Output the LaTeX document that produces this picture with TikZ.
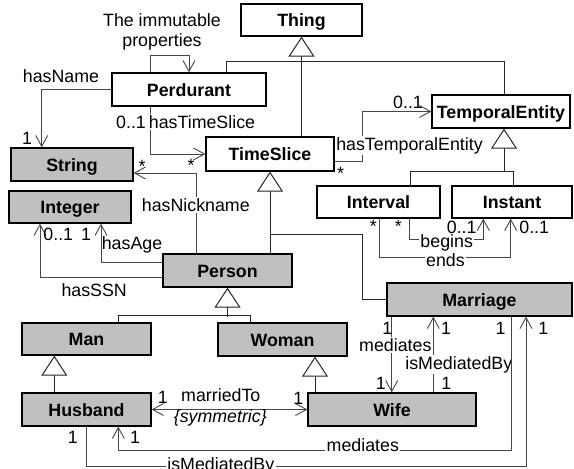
\documentclass[tikz,border=0pt]{standalone}
\usepackage{fontspec}
\setmainfont{Liberation Sans}
\usetikzlibrary{arrows.meta}
\definecolor{boxgray}{RGB}{192,192,192}
\definecolor{linegray}{RGB}{70,70,70}
\pgfdeclarelayer{bg}
\pgfsetlayers{bg,main}
\newcommand\diafont{\fontsize{17.8pt}{20.7pt}\selectfont}
\begin{document}
\diafont
\begin{tikzpicture}[x=1pt,y=-1pt,
  cls/.style={draw=black, line width=1.3pt, fill=white, inner sep=0pt,
    font=\diafont\bfseries, minimum height=33pt, text height=13pt, text depth=0pt},
  gcls/.style={cls, fill=boxgray},
  assoc/.style={draw=linegray, line width=0.9pt, -{Straight Barb[length=11pt,width=12pt]}},
  assocboth/.style={draw=linegray, line width=0.9pt,
    {Straight Barb[length=11pt,width=12pt]}-{Straight Barb[length=11pt,width=12pt]}},
  genline/.style={draw=black!85, line width=1pt},
  genarrow/.style={genline, -{Triangle[open,fill=white,length=20pt,width=26pt]}},
  lbl/.style={inner sep=0.5pt, font=\diafont},
  onlbl/.style={lbl, fill=white, inner sep=1.5pt}]
\useasboundingbox (0,0) rectangle (574,469);

% classes
\node[cls, minimum width=121pt, minimum height=32pt] (thing) at (301.5,20) {Thing};
\node[cls, minimum width=154pt] (perd) at (189,89.5) {Perdurant};
\node[cls, minimum width=138pt] (temp) at (501,111.5) {TemporalEntity};
\node[gcls, minimum width=122pt] (string) at (72,164.5) {String};
\node[cls, minimum width=128pt, minimum height=34pt] (slice) at (270,154) {TimeSlice};
\node[gcls, minimum width=122pt, minimum height=32pt] (integer) at (70,207) {Integer};
\node[cls, minimum width=123pt, minimum height=32pt] (interval) at (378.5,202) {Interval};
\node[cls, minimum width=120pt, minimum height=32pt] (instant) at (512,202) {Instant};
\node[gcls, minimum width=129pt] (person) at (227.5,270.5) {Person};
\node[gcls, minimum width=185pt] (marriage) at (479.5,299.5) {Marriage};
\node[gcls, minimum width=129pt, minimum height=32pt] (man) at (86.5,339) {Man};
\node[gcls, minimum width=129pt] (woman) at (282.5,339.5) {Woman};
\node[gcls, minimum width=129pt] (husband) at (86.5,409.5) {Husband};
\node[gcls, minimum width=168pt] (wife) at (392,409.5) {Wife};

\begin{pgfonlayer}{bg}
% generalisation trees
\draw[genline] ([xshift=37.7pt]perd.north) -- ++(0,-11) -| ([xshift=3pt]temp.north);
\draw[genarrow] (thing.south |- slice.north) -- (thing.south);
\draw[genarrow] (slice.south |- person.north) -- (slice.south);
\draw[genline] ([yshift=-63.3pt]slice.south) -- ++(92.3,0) |- (marriage.west);
\draw[genarrow] ([xshift=3pt,yshift=-43.7pt]temp.south) -- ([xshift=3pt]temp.south);
\draw[genline] ([xshift=31.5pt]interval.north) -- ++(0,-14.3) -| ([xshift=1.3pt]instant.north);
\draw[genarrow] ([yshift=-29.3pt]person.south) -- (person.south);
\draw[genline] ([xshift=31.8pt]man.north) -- ++(0,-6.7) -| ([xshift=-32.5pt]woman.north);
\draw[genarrow] ([xshift=-32.2pt]husband.north) -- ([xshift=-32.2pt]man.south);
\draw[genarrow] ([xshift=-77pt]wife.north) -- ([xshift=32.5pt]woman.south);

% associations
\draw[assoc] ([xshift=-38.3pt]perd.north) -- ++(0,-17) -| (perd.north);
\draw[assoc] (perd.west) -| ([xshift=-30.3pt]string.north);
\draw[assoc] ([xshift=-38.3pt]perd.south) |- (slice.west);
\draw[assoc] ([xshift=-31.5pt]person.north) |- ([yshift=-8.5pt]string.east);
\draw[assoc] ([yshift=8.2pt]person.west) -| ([xshift=31pt]integer.south);
\draw[assoc] ([yshift=-7.2pt]person.west) -| ([xshift=-30pt]integer.south);
\draw[assoc] ([yshift=-7pt]slice.east) -- ++(28,0) |- (temp.west);
\draw[assoc] ([xshift=30.8pt]interval.south) -- ++(0,20.3) -| ([xshift=-28.7pt]instant.south);
\draw[assoc] ([xshift=0.8pt]interval.south) -- ++(0,38.7) -| ([xshift=-1.3pt]instant.south);
\draw[assocboth] (husband.east) -- (wife.west);
\draw[assoc] ([xshift=-87.8pt]marriage.south) -- ([xshift=-87.8pt]marriage.south |- wife.north);
\draw[assoc] ([xshift=-46.2pt]marriage.south |- wife.north) -- ([xshift=-46.2pt]marriage.south);
\draw[assoc] ([xshift=-0.5pt]husband.south) -- ++(0,39.7) -| ([xshift=46.5pt]marriage.south);

% role names and multiplicities
\node[lbl, align=center] at (162,31.8) {The immutable\\properties};
\node[lbl, anchor=base] at (61,82) {hasName};
\node[lbl, anchor=base] at (27,144) {1};
\node[onlbl, anchor=base] at (202,128.3) {hasTimeSlice};
\node[lbl, anchor=base] at (131,128.3) {0..1};
\node[lbl, anchor=base] at (191,171.7) {*};
\node[lbl, anchor=base] at (142,172) {*};
\node[lbl, anchor=base] at (340.7,179.4) {*};
\node[onlbl, anchor=base] at (195.8,211.7) {hasNickname};
\node[lbl, anchor=base] at (58.3,240.7) {0..1};
\node[lbl, anchor=base] at (86,240.7) {1};
\node[lbl, anchor=base] at (132,249.5) {hasAge};
\node[lbl, anchor=base] at (94.2,296) {hasSSN};
\node[lbl, anchor=base] at (408,108.3) {0..1};
\node[onlbl, anchor=base, inner xsep=0.5pt] at (409.5,150) {hasTemporalEntity};
\node[lbl, anchor=base] at (373.3,232.7) {*};
\node[lbl, anchor=base] at (398.3,232.7) {*};
\node[onlbl, anchor=base] at (445.5,266.7) {ends};
\node[onlbl, anchor=base, inner ysep=0.5pt] at (446.7,247.6) {begins};
\node[lbl, anchor=base] at (461.7,233.5) {0..1};
\node[lbl, anchor=base] at (534.2,233.5) {0..1};
\node[lbl, anchor=base] at (220.8,401) {marriedTo};
\node[lbl, anchor=base, font=\diafont\itshape] at (220.3,422) {\{symmetric\}};
\node[lbl, anchor=base] at (162.7,403) {1};
\node[lbl, anchor=base] at (298.3,404) {1};
\node[lbl, anchor=base] at (72.7,443.5) {1};
\node[lbl, anchor=base] at (135,443.5) {1};
\node[lbl, anchor=base] at (387.3,334) {1};
\node[lbl, anchor=base] at (446,334) {1};
\node[lbl, anchor=base] at (500.5,334) {1};
\node[lbl, anchor=base] at (543.3,334) {1};
\node[onlbl, anchor=base] at (395.3,351.5) {mediates};
\node[onlbl, anchor=base] at (458.8,369) {isMediatedBy};
\node[lbl, anchor=base] at (380.8,389) {1};
\node[lbl, anchor=base] at (446.3,389) {1};

% Marriage to Husband, drawn over the middle labels
\draw[assoc] ([xshift=32.2pt]marriage.south) -- ++(0,134) -| ([xshift=31.8pt]husband.south);
\node[onlbl, anchor=base] at (362.8,451.5) {mediates};
\node[onlbl, anchor=base] at (220.8,470) {isMediatedBy};
\end{pgfonlayer}
\end{tikzpicture}
\end{document}
